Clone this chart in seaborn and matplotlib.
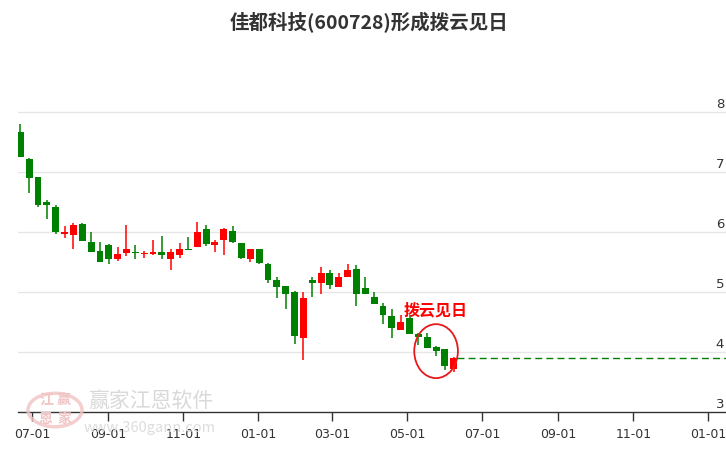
import pandas as pd
import numpy as np
import matplotlib
matplotlib.use("Agg")
import matplotlib.pyplot as plt
import matplotlib.dates as mdates
from matplotlib.patches import Ellipse, Circle
import seaborn as sns

# weekly candles (open / close / high / low)
opens = [7.67, 7.22, 6.93, 6.51, 6.42, 5.98, 5.96, 6.14, 5.84, 5.69,
         5.79, 5.56, 5.65, 5.67, 5.64, 5.64, 5.68, 5.56, 5.62, 5.72,
         5.76, 6.06, 5.79, 5.87, 6.03, 5.82, 5.56, 5.72, 5.47, 5.21,
         5.10, 5.00, 4.24, 5.20, 5.15, 5.33, 5.09, 5.25, 5.39, 5.08,
         4.93, 4.77, 4.60, 4.38, 4.58, 4.30, 4.25, 4.09, 4.05, 3.72]
closes = [7.25, 6.91, 6.46, 6.45, 6.00, 6.01, 6.12, 5.86, 5.68, 5.50,
          5.56, 5.64, 5.72, 5.66, 5.66, 5.68, 5.63, 5.68, 5.72, 5.71,
          6.00, 5.81, 5.84, 6.05, 5.84, 5.58, 5.72, 5.49, 5.20, 5.09,
          4.98, 4.28, 4.90, 5.15, 5.32, 5.12, 5.25, 5.37, 4.98, 4.97,
          4.80, 4.63, 4.40, 4.50, 4.30, 4.26, 4.08, 4.02, 3.77, 3.90]
highs = [7.81, 7.24, 6.93, 6.54, 6.45, 6.10, 6.16, 6.16, 6.00, 5.84,
         5.81, 5.76, 6.12, 5.79, 5.69, 5.88, 5.94, 5.73, 5.82, 5.92,
         6.17, 6.12, 5.88, 6.08, 6.10, 5.83, 5.72, 5.72, 5.49, 5.25,
         5.10, 5.03, 5.00, 5.25, 5.43, 5.37, 5.33, 5.47, 5.45, 5.25,
         5.00, 4.83, 4.73, 4.63, 4.62, 4.32, 4.32, 4.10, 4.06, 3.92]
lows = [7.25, 6.65, 6.43, 6.23, 5.98, 5.90, 5.73, 5.86, 5.68, 5.50,
        5.48, 5.53, 5.61, 5.55, 5.57, 5.62, 5.55, 5.38, 5.57, 5.71,
        5.76, 5.78, 5.67, 5.62, 5.82, 5.56, 5.51, 5.47, 5.15, 4.90,
        4.73, 4.14, 3.87, 4.92, 4.97, 5.05, 5.09, 5.25, 4.78, 4.97,
        4.80, 4.48, 4.24, 4.38, 4.30, 4.13, 4.08, 3.94, 3.70, 3.68]
dates = pd.date_range("2023-06-21 12:00", "2024-06-08", periods=len(opens))

tick_dates = pd.to_datetime(["2023-07-01", "2023-09-01", "2023-11-01", "2024-01-01",
                             "2024-03-01", "2024-05-01", "2024-07-01", "2024-09-01",
                             "2024-11-01", "2025-01-01"])
tick_labels = [d.strftime("%m-%d") for d in tick_dates]
y_ticks = [3, 4, 5, 6, 7, 8]

title = "佳都科技(600728)形成拨云见日"
signal = "拨云见日"

RED = "#ff0000"
GREEN = "#008000"

sns.set_theme(style="white")
plt.rcParams["font.family"] = ["Noto Sans CJK SC", "DejaVu Sans"]

df = pd.DataFrame({"date": dates, "open": opens, "close": closes,
                   "high": highs, "low": lows})
df["x"] = mdates.date2num(df["date"])
df["up"] = df["close"] >= df["open"]
df["color"] = np.where(df["up"], RED, GREEN)
df["bottom"] = df[["open", "close"]].min(axis=1)
df["body"] = (df["close"] - df["open"]).abs().clip(lower=0.02)

fig = plt.figure(figsize=(7.26, 4.5), dpi=100)
ax = fig.add_axes([18 / 726, 37.7 / 450, 708 / 726, 358 / 450])

# watermark
fig.patches.append(Circle((55 / 726, 1 - 410 / 450), 27 / 726, transform=fig.transFigure,
                          fill=False, ec="#f0c4c4", lw=2.5, alpha=0.8, zorder=0))
for (cx, cy), ch in zip([(46, 400), (64, 400), (46, 419), (64, 419)], ["江", "赢", "恩", "家"]):
    fig.text(cx / 726, 1 - cy / 450, ch, color="#f0c4c4", fontsize=10, fontweight="bold",
             ha="center", va="center", zorder=0)
fig.text(151 / 726, 1 - 401 / 450, "赢家江恩软件", color="#d9d9d9", fontsize=15,
         ha="center", va="center", zorder=0)
fig.text(150 / 726, 1 - 428 / 450, "www.360gann.com", color="#dddddd", fontsize=10.5,
         ha="center", va="center", zorder=0)
ax.set_facecolor("none")

# grid lines
for v in y_ticks[1:]:
    ax.axhline(v, color="#e6e6e6", lw=1, zorder=0)

# candles
ax.vlines(df["x"], df["low"], df["high"], colors=df["color"], lw=1.1, zorder=2)
ax.bar(df["x"], df["body"], bottom=df["bottom"], width=5.6, color=df["color"],
       linewidth=0, zorder=3)

# last close dashed line
x_left = mdates.date2num(pd.Timestamp("2023-07-01")) - 11.4
x_right = mdates.date2num(pd.Timestamp("2023-07-01")) + 564.4
ax.hlines(closes[-1], df["x"].iloc[-1] + 3, x_right, colors=GREEN, lw=1,
          linestyles=(0, (5, 3)), zorder=2)

# signal marker
ax.add_patch(Ellipse((df["x"].iloc[47], 4.02), 35.5, 0.9, fill=False, ec="#e8191c",
                     lw=1.3, zorder=4))
ax.text(df["x"].iloc[47], 4.70, signal, color=RED, fontsize=11.5, fontweight="bold",
        ha="center", va="center", zorder=5)

ax.set_xlim(x_left, x_right)
ax.set_ylim(3, 8.97)
ax.set_xticks(mdates.date2num(tick_dates))
ax.set_xticklabels(tick_labels, family=["Liberation Sans Narrow", "DejaVu Sans"],
                   fontsize=9, color="#333333")
ax.tick_params(axis="x", direction="out", length=6.5, width=1, color="#333333", pad=5,
               bottom=True)
ax.set_yticks([])
for v in y_ticks:
    ax.text(x_right - 1.5, v + 0.03, str(v), transform=ax.transData, ha="right",
            va="bottom", fontsize=9.5, color="#333333",
            family=["Liberation Sans Narrow", "DejaVu Sans"])

for s in ["left", "right", "top"]:
    ax.spines[s].set_visible(False)
ax.spines["bottom"].set_color("#333333")
ax.spines["bottom"].set_linewidth(1)

fig.text(369 / 726, 1 - 23 / 450, title, ha="center", va="center", fontsize=14,
         fontweight="bold", color="#333333")

fig.savefig("out.png", dpi=100)
